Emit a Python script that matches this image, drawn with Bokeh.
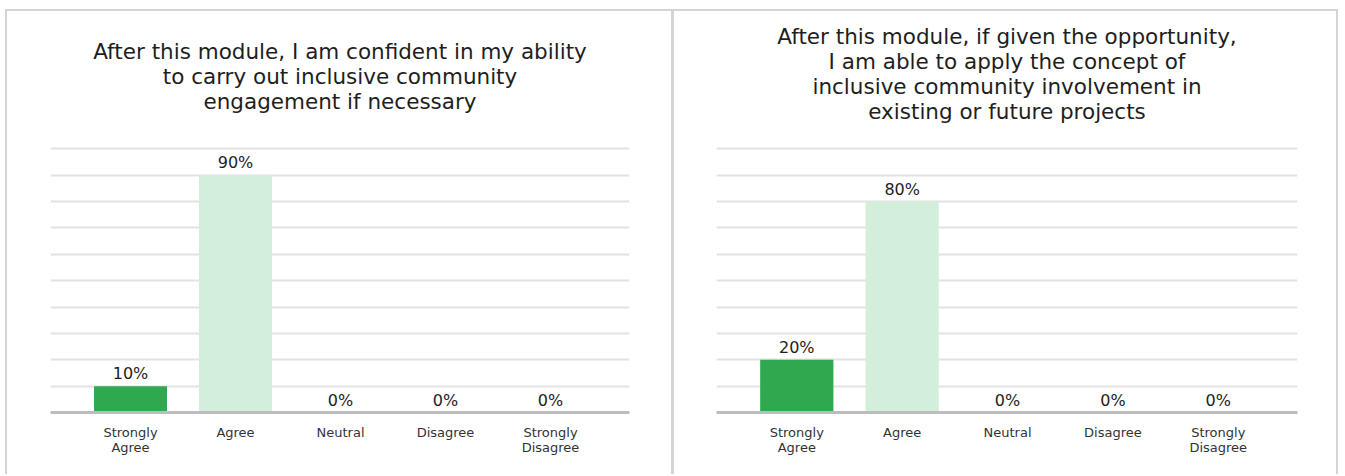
from bokeh.plotting import figure
from bokeh.models import ColumnDataSource, FixedTicker, Range1d, Title, Spacer
from bokeh.layouts import row, column
from bokeh.embed import file_html
from bokeh.resources import INLINE
from bokeh.core.properties import value

# ---- data ----
categories = ["Strongly Agree", "Agree", "Neutral", "Disagree", "Strongly Disagree"]
tick_labels = ["Strongly\nAgree", "Agree", "Neutral", "Disagree", "Strongly\nDisagree"]
values_left = [10, 90, 0, 0, 0]
values_right = [20, 80, 0, 0, 0]
bar_colors = ["#2fa84f", "#d3eedb", "#d3eedb", "#d3eedb", "#d3eedb"]
title_left_lines = ["After this module, I am confident in my ability",
                    "to carry out inclusive community",
                    "engagement if necessary"]
title_right_lines = ["After this module, if given the opportunity,",
                     "I am able to apply the concept of",
                     "inclusive community involvement in",
                     "existing or future projects"]
grid_ticks = [10, 20, 30, 40, 50, 60, 70, 80, 90, 100]

FONT = "DejaVu Sans"
TEXT = "#1e1e1e"

FRAME_TOP = 143
FRAME_BOTTOM = 412
FIG_H = 465


def make_panel(lines, gap_standoff, values, width, min_left, min_right, styles):
    xs = list(range(len(categories)))
    src = ColumnDataSource(dict(
        x=xs, top=values, color=bar_colors,
        label=[f"{v}%" for v in values],
    ))
    p = figure(width=width, height=FIG_H, output_backend="svg", toolbar_location=None,
               x_range=Range1d(-0.762, 4.752), y_range=Range1d(0, 102),
               min_border_left=min_left, min_border_right=min_right,
               min_border_top=FRAME_TOP - 11, min_border_bottom=11 + FIG_H - FRAME_BOTTOM)
    p.styles = styles
    p.outline_line_color = None
    p.background_fill_color = "white"
    p.border_fill_color = "white"
    p.title.visible = False

    # blank spacer title between plot area and title block
    p.add_layout(Title(text=" ", text_font=FONT, text_font_size="10px",
                       standoff=gap_standoff), "above")
    # title lines: the last line sits closest to the plot area
    for line in reversed(lines):
        t = Title(text=line, align="center", text_font=FONT, text_font_size="21.5px",
                  text_font_style="normal", text_color=TEXT, standoff=-2.5)
        p.add_layout(t, "above")

    p.vbar(x="x", top="top", width=0.695, bottom=0, fill_color="color",
           line_color=None, source=src)
    p.text(x="x", y="top", text="label", source=src, text_align="center",
           text_baseline="bottom", y_offset=-3, text_font=value(FONT),
           text_font_size="16px", text_color=TEXT)

    p.xgrid.visible = False
    p.ygrid.ticker = FixedTicker(ticks=grid_ticks)
    p.ygrid.grid_line_color = "#e2e2e2"
    p.ygrid.grid_line_width = 2
    p.yaxis.visible = False

    ax = p.xaxis[0]
    ax.ticker = FixedTicker(ticks=xs)
    ax.major_label_overrides = {i: lab for i, lab in zip(xs, tick_labels)}
    ax.major_tick_line_color = None
    ax.minor_tick_line_color = None
    ax.axis_line_color = "#bdbdbd"
    ax.axis_line_width = 3
    ax.major_label_text_font = FONT
    ax.major_label_text_font_size = "13px"
    ax.major_label_text_color = "#333333"
    ax.major_label_standoff = 6
    ax.major_label_text_line_height = 1.05
    return p


border = "2px solid #d4d4d4"
p1 = make_panel(title_left_lines, 18, values_left, 669, 43, 47,
                {"border-top": border, "border-left": border,
                 "border-right": "3px solid #d4d4d4"})
p2 = make_panel(title_right_lines, 7.5, values_right, 664, 42, 41,
                {"border-top": border, "border-right": border})

layout = column(Spacer(height=9), row(Spacer(width=5), p1, p2))
open("out.html", "w").write(file_html(layout, INLINE))
